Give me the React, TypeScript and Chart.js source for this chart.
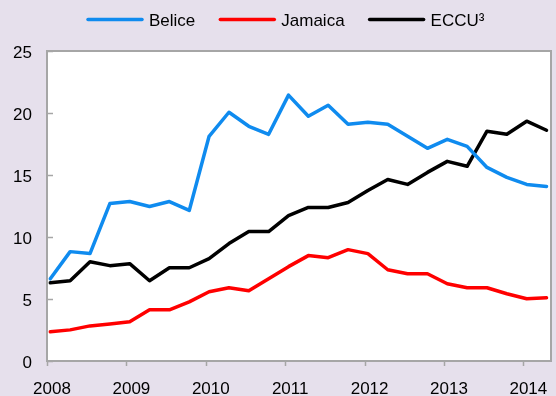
import React, { useEffect, useRef } from "react";
import { Chart, registerables } from "chart.js";

Chart.register(...registerables);

const quarters = [
  "2008T1", "2008T2", "2008T3", "2008T4",
  "2009T1", "2009T2", "2009T3", "2009T4",
  "2010T1", "2010T2", "2010T3", "2010T4",
  "2011T1", "2011T2", "2011T3", "2011T4",
  "2012T1", "2012T2", "2012T3", "2012T4",
  "2013T1", "2013T2", "2013T3", "2013T4",
  "2014T1", "2014T2",
];

const belice = [
  6.63, 8.82, 8.66, 12.7, 12.86, 12.46, 12.86, 12.14,
  18.12, 20.06, 18.93, 18.28, 21.44, 19.74, 20.63, 19.09,
  19.26, 19.09, 18.12, 17.15, 17.88, 17.31, 15.61, 14.81,
  14.24, 14.08,
];

const jamaica = [
  2.35, 2.51, 2.83, 2.99, 3.16, 4.13, 4.13, 4.77,
  5.58, 5.91, 5.66, 6.63, 7.61, 8.5, 8.33, 8.98,
  8.66, 7.36, 7.04, 7.04, 6.23, 5.91, 5.91, 5.42,
  5.02, 5.1,
];

const eccu = [
  6.31, 6.47, 8.01, 7.69, 7.85, 6.47, 7.52, 7.52,
  8.25, 9.47, 10.44, 10.44, 11.73, 12.38, 12.38, 12.78,
  13.75, 14.64, 14.24, 15.21, 16.1, 15.7, 18.53, 18.28,
  19.34, 18.61,
];

const yearTicks = [2008, 2009, 2010, 2011, 2012, 2013, 2014];
const yTicks = [0, 5, 10, 15, 20, 25];

const seriesNames = ["Belice", "Jamaica", "ECCU³"];
const seriesColors = ["#0f8bef", "#ff0000", "#000000"];

const BG = "#e6e0ec";
const AXIS = "#a6a6a6";
const FONT = "'Liberation Sans', Arial, sans-serif";

// quarterly observation dated at the middle of the quarter's first month
const quarterToX = (q: string) => {
  const year = parseInt(q.slice(0, 4), 10);
  const qn = parseInt(q.slice(5), 10);
  return year + (qn - 1) / 4 + 1 / 24;
};

const toPoints = (vals: number[]) =>
  vals.map((v, i) => ({ x: quarterToX(quarters[i]), y: v }));

const framePlugin = {
  id: "frame",
  beforeDraw(chart: any) {
    const { ctx, chartArea } = chart;
    ctx.save();
    ctx.fillStyle = BG;
    ctx.fillRect(0, 0, chart.width, chart.height);
    ctx.fillStyle = "#ffffff";
    ctx.fillRect(chartArea.left, chartArea.top, chartArea.right - chartArea.left, chartArea.bottom - chartArea.top);
    ctx.restore();
  },
  afterDatasetsDraw(chart: any) {
    const { ctx, chartArea, scales } = chart;
    const { left, right, top, bottom } = chartArea;
    ctx.save();
    ctx.strokeStyle = AXIS;
    ctx.lineWidth = 2;
    ctx.strokeRect(left, top, right - left, bottom - top);
    // y ticks (inside)
    ctx.lineWidth = 1.5;
    yTicks.forEach((v) => {
      const y = Math.round(scales.y.getPixelForValue(v)) + 0.5;
      ctx.beginPath();
      ctx.moveTo(left, y);
      ctx.lineTo(left + 6, y);
      ctx.stroke();
    });
    // x ticks (outside)
    yearTicks.forEach((v) => {
      const x = Math.round(scales.x.getPixelForValue(v)) + 0.5;
      ctx.beginPath();
      ctx.moveTo(x, bottom);
      ctx.lineTo(x, bottom + 5);
      ctx.stroke();
    });
    ctx.restore();
  },
  afterDraw(chart: any) {
    const { ctx } = chart;
    ctx.save();
    ctx.font = `17px ${FONT}`;
    ctx.textBaseline = "middle";
    let x = 88;
    const y = 20;
    chart.data.datasets.forEach((ds: any) => {
      ctx.strokeStyle = ds.borderColor;
      ctx.lineWidth = 3.5;
      ctx.lineCap = "round";
      ctx.beginPath();
      ctx.moveTo(x, y - 0.5);
      ctx.lineTo(x + 54, y - 0.5);
      ctx.stroke();
      ctx.fillStyle = "#000000";
      ctx.fillText(ds.label, x + 61, y + 1.5);
      x += 61 + ctx.measureText(ds.label).width + 25;
    });
    ctx.restore();
  },
};

export default function App() {
  const ref = useRef<HTMLCanvasElement>(null);

  useEffect(() => {
    if (!ref.current) return;
    const allSeries = [belice, jamaica, eccu];
    const chart = new Chart(ref.current, {
      type: "line",
      data: {
        datasets: allSeries.map((vals, i) => ({
          label: seriesNames[i],
          data: toPoints(vals),
          borderColor: seriesColors[i],
          backgroundColor: seriesColors[i],
          borderWidth: 3.5,
          pointRadius: 0,
          tension: 0,
          borderJoinStyle: "round" as const,
          borderCapStyle: "round" as const,
        })),
      },
      options: {
        responsive: false,
        animation: false,
        devicePixelRatio: 1,
        layout: { padding: { top: 51, right: 5, left: 0, bottom: 0 } },
        plugins: {
          legend: { display: false },
          tooltip: { enabled: false },
        },
        scales: {
          x: {
            type: "linear",
            min: 2008,
            max: 2014.348,
            grid: { display: false, drawTicks: false },
            border: { display: false },
            afterBuildTicks: (scale: any) => {
              scale.ticks = yearTicks.map((v) => ({ value: v }));
            },
            afterFit: (scale: any) => {
              scale.height = 35;
              scale.paddingLeft = 0;
              scale.paddingRight = 0;
            },
            ticks: {
              includeBounds: false,
              autoSkip: false,
              maxRotation: 0,
              padding: 18,
              labelOffset: 5,
              color: "#000000",
              font: { family: FONT, size: 17 },
              callback: (v: any) => String(v),
            },
          },
          y: {
            min: 0,
            max: 25,
            grid: { display: false, drawTicks: false },
            border: { display: false },
            afterBuildTicks: (scale: any) => {
              scale.ticks = yTicks.map((v) => ({ value: v }));
            },
            afterFit: (scale: any) => {
              scale.width = 47;
              scale.paddingTop = 0;
              scale.paddingBottom = 0;
            },
            ticks: {
              padding: 15,
              labelOffset: 2,
              color: "#000000",
              font: { family: FONT, size: 17 },
              callback: (v: any) => String(v),
            },
          },
        },
      },
      plugins: [framePlugin],
    });
    return () => chart.destroy();
  }, []);

  return (
    <div style={{ position: "absolute", left: 0, top: 0, width: 556, height: 396, background: BG }}>
      <canvas ref={ref} width={556} height={396} style={{ display: "block", width: 556, height: 396 }} />
    </div>
  );
}
